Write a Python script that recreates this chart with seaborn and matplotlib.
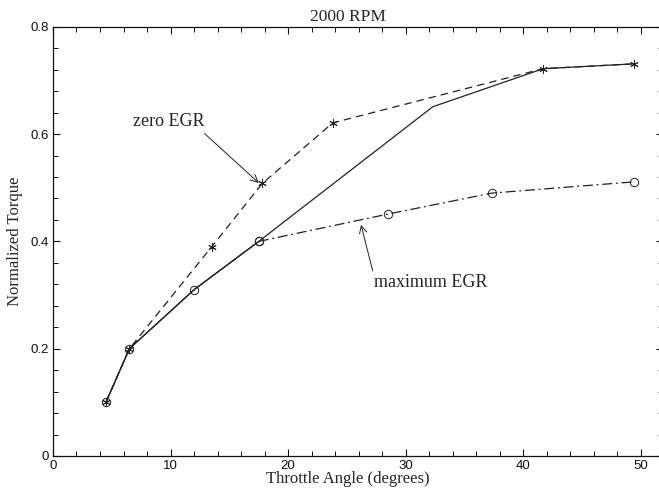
import numpy as np
import matplotlib
matplotlib.use("Agg")
import matplotlib.pyplot as plt
import seaborn as sns

# torque vs throttle angle at 2000 RPM
solid_x = [4.5, 6.5, 12.0, 17.5, 32.3, 41.7, 49.4]
solid_y = [0.10, 0.20, 0.31, 0.40, 0.651, 0.722, 0.731]

zero_x = [4.5, 6.5, 13.5, 17.8, 23.8, 41.7, 49.4]
zero_y = [0.10, 0.20, 0.39, 0.508, 0.621, 0.722, 0.731]

max_x = [4.5, 6.5, 12.0, 17.5, 28.5, 37.3, 49.4]
max_y = [0.10, 0.20, 0.31, 0.40, 0.451, 0.49, 0.511]

sns.set_style("ticks")
plt.rcParams['font.family'] = ['Liberation Serif', 'DejaVu Serif']

fig = plt.figure(figsize=(6.59, 4.95), dpi=100)
ax = fig.add_axes([0.0804, 0.0788, 0.926, 0.867])

lc = "#222222"
sns.lineplot(x=solid_x, y=solid_y, sort=False, ax=ax, color=lc, lw=0.9)
sns.lineplot(x=zero_x, y=zero_y, sort=False, ax=ax, color=lc, lw=0.9,
             linestyle=(0, (6, 4)), marker=(6, 2, 0), markersize=6,
             markeredgecolor=lc, markeredgewidth=0.7)
# maximum EGR: solid part shared with the base curve, dash-dot afterwards
sns.lineplot(x=max_x[:4], y=max_y[:4], sort=False, ax=ax, color=lc, lw=0.9,
             marker="o", markersize=6, markerfacecolor="none",
             markeredgecolor=lc, markeredgewidth=0.7)
sns.lineplot(x=max_x[3:], y=max_y[3:], sort=False, ax=ax, color=lc, lw=0.9,
             linestyle=(0, (8, 3, 1.5, 3)), marker="o", markersize=6,
             markerfacecolor="none", markeredgecolor=lc, markeredgewidth=0.7)

ax.set_xlim(0, 51.9)
ax.set_ylim(0, 0.8)
ax.set_xticks(np.arange(0, 51, 10))
ax.set_xticks(np.arange(0, 52, 2), minor=True)
ax.set_yticks([0, 0.2, 0.4, 0.6, 0.8])
ax.set_yticklabels(["0", "0.2", "0.4", "0.6", "0.8"])
ax.set_yticks(np.arange(0, 0.81, 0.04), minor=True)
ax.tick_params(which="major", direction="in", top=True, right=True,
               labelsize=9.5, colors="#111111", width=0.8, length=5, pad=3)
ax.tick_params(which="minor", direction="in", top=True, right=True,
               color="#111111", width=0.7, length=3.5)
for lab in ax.get_xticklabels() + ax.get_yticklabels():
    lab.set_fontfamily("Liberation Sans")
for s in ax.spines.values():
    s.set_linewidth(0.9)
    s.set_color("#111111")

ax.set_xlabel("Throttle Angle (degrees)", fontsize=12, labelpad=1)
ax.xaxis.set_label_coords(0.483, -0.035)
ax.set_ylabel("Normalized Torque", fontsize=12, labelpad=5)
ax.set_title("2000 RPM", fontsize=12.5, x=0.483, pad=4)

arrow = dict(arrowstyle="->", color=lc, lw=0.7)
ax.annotate("zero EGR", xy=(17.5, 0.509), xytext=(6.8, 0.623),
            fontsize=13, va="center", arrowprops=dict(arrow, shrinkA=0, shrinkB=0,
            relpos=(0.95, 0.0)))
ax.annotate("maximum EGR", xy=(26.2, 0.431), xytext=(27.3, 0.323),
            fontsize=13, va="center", arrowprops=dict(arrow, shrinkA=0, shrinkB=0,
            relpos=(0.0, 0.9)))

fig.savefig("out.png", dpi=100)
